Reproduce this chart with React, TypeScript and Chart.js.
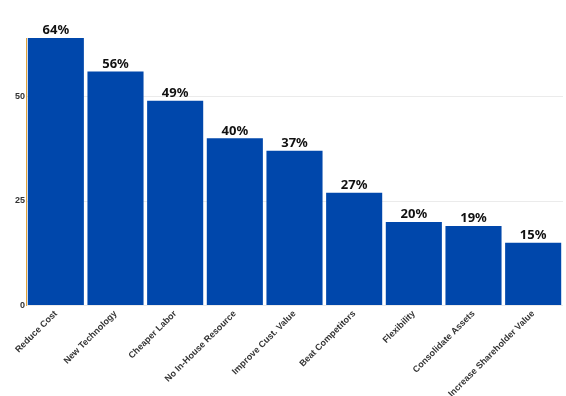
import React, { useEffect, useRef } from "react";
import { Chart, registerables } from "chart.js";

Chart.register(...registerables);

const categories = [
  "Reduce Cost",
  "New Technology",
  "Cheaper Labor",
  "No In-House Resource",
  "Improve Cust. Value",
  "Beat Competitors",
  "Flexibility",
  "Consolidate Assets",
  "Increase Shareholder Value",
];
const values = [64, 56, 49, 40, 37, 27, 20, 19, 15];
const yTicks = [0, 25, 50];

const valueLabels = {
  id: "valueLabels",
  afterDatasetsDraw(chart: any) {
    const ctx = chart.ctx;
    const meta = chart.getDatasetMeta(0);
    ctx.save();
    ctx.font = "bold 13px 'Noto Sans'";
    ctx.fillStyle = "#111";
    ctx.textAlign = "center";
    ctx.textBaseline = "bottom";
    meta.data.forEach((bar: any, i: number) => {
      ctx.fillText(values[i] + "%", bar.x, bar.y - 1);
    });
    ctx.restore();
  },
};

export default function App() {
  const ref = useRef<HTMLCanvasElement | null>(null);
  useEffect(() => {
    document.body.style.margin = "0";
    if (!ref.current) return;
    const chart = new Chart(ref.current, {
      type: "bar",
      data: {
        labels: categories,
        datasets: [
          {
            data: values,
            backgroundColor: "#0047ab",
            borderWidth: 0,
            barPercentage: 0.94,
            categoryPercentage: 1,
          },
        ],
      },
      options: {
        animation: false,
        responsive: false,
        layout: { padding: { top: 38, right: 3, left: 0, bottom: 0 } },
        plugins: { legend: { display: false }, tooltip: { enabled: false } },
        scales: {
          x: {
            grid: { display: false },
            border: { display: false },
            ticks: {
              minRotation: 45,
              maxRotation: 45,
              color: "#333",
              padding: -5,
              font: { family: "'Liberation Sans'", size: 9, weight: "bold" },
            },
            afterFit: (s: any) => {
              s.height = 90.5;
            },
          },
          y: {
            min: 0,
            max: 64,
            afterBuildTicks: (s: any) => {
              s.ticks = yTicks.map((v) => ({ value: v }));
            },
            grid: { color: "#ebebeb", drawTicks: false },
            border: { display: true, color: "#e0a23a", width: 1 },
            ticks: {
              color: "#333",
              padding: 1,
              font: { family: "'Liberation Sans'", size: 9, weight: "bold" },
            },
            afterFit: (s: any) => {
              s.width = 26;
            },
          },
        },
      },
      plugins: [valueLabels],
    });
    return () => chart.destroy();
  }, []);
  return (
    <div style={{ width: 566, height: 396 }}>
      <canvas ref={ref} width={566} height={396} style={{ display: "block" }} />
    </div>
  );
}
